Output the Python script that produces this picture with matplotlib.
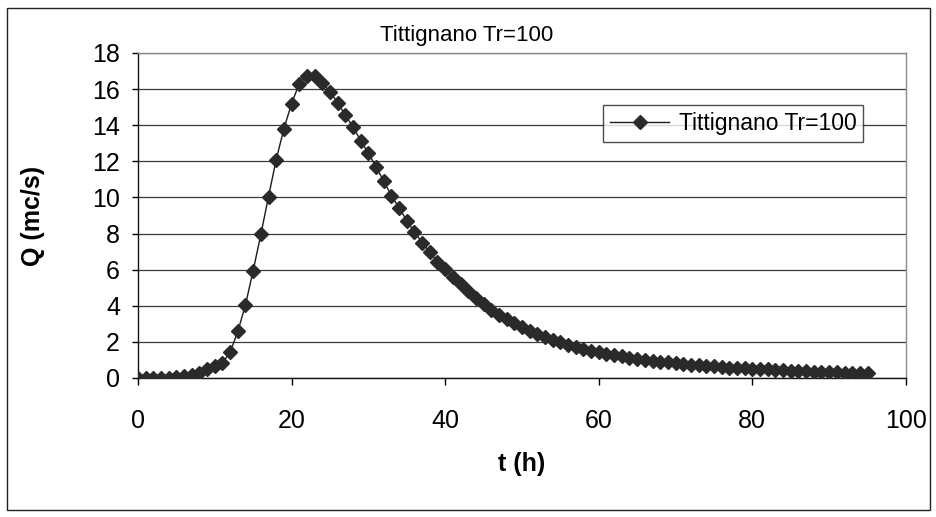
"""Flood hydrograph at Tittignano for return period Tr=100 (Excel-style chart)."""

import matplotlib.pyplot as plt
from matplotlib.patches import Rectangle

plt.rcParams['font.family'] = ['Liberation Sans', 'DejaVu Sans']

TITLE = "Tittignano Tr=100"
SERIES_NAME = "Tittignano Tr=100"
X_LABEL = "t (h)"
Y_LABEL = "Q (mc/s)"

# time in hours (one value per hour)
t_hours = [
    0, 1, 2, 3, 4, 5, 6, 7, 8, 9,
    10, 11, 12, 13, 14, 15, 16, 17, 18, 19,
    20, 21, 22, 23, 24, 25, 26, 27, 28, 29,
    30, 31, 32, 33, 34, 35, 36, 37, 38, 39,
    40, 41, 42, 43, 44, 45, 46, 47, 48, 49,
    50, 51, 52, 53, 54, 55, 56, 57, 58, 59,
    60, 61, 62, 63, 64, 65, 66, 67, 68, 69,
    70, 71, 72, 73, 74, 75, 76, 77, 78, 79,
    80, 81, 82, 83, 84, 85, 86, 87, 88, 89,
    90, 91, 92, 93, 94, 95,
]

# discharge, m^3/s
q_flow = [
    0.00, 0.00, 0.00, 0.01, 0.02, 0.04, 0.09, 0.17, 0.30, 0.47,
    0.65, 0.85, 1.42, 2.58, 4.05, 5.95, 7.95, 10.05, 12.10, 13.80,
    15.20, 16.30, 16.75, 16.72, 16.35, 15.85, 15.25, 14.55, 13.90, 13.15,
    12.45, 11.70, 10.90, 10.10, 9.42, 8.72, 8.08, 7.50, 6.97, 6.45,
    6.02, 5.60, 5.20, 4.80, 4.43, 4.08, 3.78, 3.50, 3.25, 3.03,
    2.82, 2.62, 2.45, 2.28, 2.12, 1.98, 1.85, 1.73, 1.62, 1.52,
    1.43, 1.35, 1.27, 1.20, 1.13, 1.07, 1.01, 0.96, 0.91, 0.86,
    0.82, 0.78, 0.74, 0.71, 0.67, 0.64, 0.61, 0.58, 0.56, 0.53,
    0.51, 0.49, 0.47, 0.45, 0.43, 0.41, 0.39, 0.37, 0.35, 0.34,
    0.32, 0.31, 0.29, 0.28, 0.27, 0.25,
]

x_ticks = [0, 20, 40, 60, 80, 100]
y_ticks = [0, 2, 4, 6, 8, 10, 12, 14, 16, 18]

fig = plt.figure(figsize=(9.36, 5.17), dpi=100)
ax = fig.add_axes([0.1474, 0.2689, 0.8205, 0.6286])

# outer chart frame
fig.patches.append(Rectangle((0.008, 0.014), 0.986, 0.97, transform=fig.transFigure,
                             fill=False, edgecolor='#222222', linewidth=1.0))

ax.plot(t_hours, q_flow, color='#1a1a1a', linewidth=1.0, marker='D',
        markersize=6.8, markerfacecolor='#2a2a2a', markeredgecolor='#2a2a2a',
        label=SERIES_NAME, zorder=3)

ax.set_xlim(0, 100)
ax.set_ylim(0, 18)
ax.set_xticks(x_ticks)
ax.set_yticks(y_ticks)
ax.yaxis.grid(True, color='#3a3a3a', linewidth=0.9)
ax.set_axisbelow(True)

for side in ('top', 'right'):
    ax.spines[side].set_color('#8a8a8a')
    ax.spines[side].set_linewidth(1.0)
for side in ('left', 'bottom'):
    ax.spines[side].set_color('#111111')
    ax.spines[side].set_linewidth(1.0)

ax.tick_params(axis='x', direction='out', length=5, width=1, pad=17, labelsize=18)
ax.tick_params(axis='y', direction='out', length=4, width=1, pad=9, labelsize=18)

ax.set_xlabel(X_LABEL, fontsize=18, fontweight='bold', labelpad=14)
ax.set_ylabel(Y_LABEL, fontsize=18, fontweight='bold', labelpad=34)
fig.text(0.498, 0.932, TITLE, ha='center', va='center', fontsize=16)

leg = ax.legend(loc='center', bbox_to_anchor=(0.775, 0.782), fontsize=16.5,
                frameon=True, fancybox=False, handlelength=2.6,
                borderpad=0.3, handletextpad=0.4)
leg.get_frame().set_edgecolor('#222222')
leg.get_frame().set_linewidth(1.0)

fig.savefig('out.png', dpi=100)
